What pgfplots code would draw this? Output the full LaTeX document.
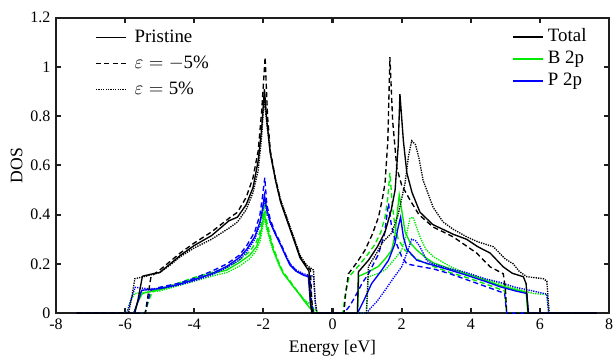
\documentclass[border=0pt]{standalone}
\usepackage{pgfplots}
\pgfplotsset{compat=1.18}
\usepackage{fontspec}
\setmainfont{Liberation Serif}
\definecolor{axgray}{RGB}{30,30,30}
\definecolor{mygreen}{RGB}{0,235,0}
\definecolor{myblue}{RGB}{0,0,255}
\pgfplotsset{
 solidS/.style={solid, line width=0.85pt},
 dashS/.style={dash pattern=on 3.2pt off 2pt, line width=0.85pt},
 dotS/.style={dash pattern=on 0.8pt off 0.7pt, line width=0.85pt},
}
\begin{document}
\begin{tikzpicture}
\begin{axis}[name=main, scale only axis, width=345.6pt, height=184.6pt,
 xmin=-8, xmax=8, ymin=0, ymax=1.2,
 xtick={-8,-6,-4,-2,0,2,4,6,8}, ytick={0,0.2,0.4,0.6,0.8,1,1.2},
 tick align=inside, major tick length=3.2pt,
 axis line style={line width=1.4pt, color=axgray},
 every tick/.style={line width=1.3pt, color=axgray},
 ticklabel style={font=\fontsize{10}{12}\selectfont},
 /pgf/number format/assume math mode=true,
 xlabel={Energy [eV]}, ylabel={DOS},
 ylabel style={yshift=-2pt},
 label style={font=\fontsize{11}{13}\selectfont},
 legend cell align=left,
 legend image code/.code={\draw[#1] (0pt,0pt) -- (18.75pt,0pt);},
 legend style={at={(0.825,0.966)}, anchor=north west, draw=none, fill=none,
   inner sep=0pt, font=\fontsize{11.8}{13}\selectfont, row sep=2.75pt,
   nodes={inner sep=0pt, text height=8.5pt, text depth=2.5pt},
   /tikz/every odd column/.style={column sep=2.5pt}},
]
% ---------- B 2p (green) ----------
\addplot[mygreen, solidS, forget plot] table {
-7.4 0
-5.75 0
-5.62 0.05
-5.5 0.08
-5.2 0.09
-5.0 0.095
-4.5 0.115
-4.0 0.14
-3.5 0.16
-3.06 0.175
-2.7 0.205
-2.4 0.235
-2.2 0.27
-2.1 0.31
-2.03 0.36
-1.98 0.41
-1.9 0.35
-1.8 0.30
-1.71 0.256
-1.55 0.20
-1.42 0.16
-1.25 0.13
-1.13 0.107
-0.95 0.075
-0.84 0.053
-0.65 0.02
-0.5 0
0.72 0
0.76 0.15
1.0 0.165
1.33 0.19
1.55 0.225
1.71 0.256
1.8 0.31
1.86 0.39
1.93 0.48
2.0 0.42
2.1 0.33
2.25 0.285
2.44 0.256
2.7 0.225
2.91 0.205
3.4 0.18
3.88 0.16
4.4 0.135
4.85 0.112
5.3 0.095
5.6 0.085
5.65 0
7.65 0
};
\addplot[mygreen, dashS, forget plot] table {
-7.4 0
-5.42 0
-5.32 0.05
-5.22 0.085
-5.0 0.10
-4.5 0.12
-4.0 0.145
-3.5 0.165
-3.06 0.185
-2.7 0.215
-2.4 0.25
-2.2 0.29
-2.1 0.33
-2.03 0.39
-1.96 0.45
-1.9 0.37
-1.8 0.31
-1.71 0.265
-1.55 0.205
-1.42 0.165
-1.25 0.135
-1.13 0.11
-0.95 0.078
-0.84 0.056
-0.65 0.025
-0.48 0
0.3 0
0.36 0.07
0.48 0.148
0.8 0.20
1.0 0.235
1.23 0.28
1.4 0.33
1.52 0.39
1.6 0.47
1.66 0.57
1.73 0.44
1.8 0.36
1.9 0.30
2.1 0.255
2.5 0.215
2.91 0.19
3.4 0.165
3.88 0.145
4.4 0.12
4.85 0.097
4.98 0.09
5.04 0
7.65 0
};
\addplot[mygreen, dotS, forget plot] table {
-7.4 0
-5.95 0
-5.85 0.05
-5.72 0.08
-5.4 0.085
-5.0 0.09
-4.5 0.11
-4.0 0.13
-3.5 0.15
-3.06 0.165
-2.7 0.19
-2.4 0.22
-2.2 0.255
-2.1 0.29
-2.03 0.34
-1.98 0.39
-1.9 0.34
-1.8 0.29
-1.71 0.25
-1.55 0.195
-1.42 0.16
-1.25 0.13
-1.13 0.107
-0.95 0.078
-0.84 0.058
-0.6 0.03
-0.42 0
0.98 0
1.04 0.148
1.3 0.16
1.52 0.175
1.8 0.22
2.0 0.256
2.15 0.325
2.24 0.385
2.33 0.39
2.43 0.35
2.53 0.31
2.7 0.26
2.91 0.23
3.4 0.19
3.88 0.16
4.4 0.14
4.85 0.12
5.3 0.10
5.8 0.08
6.2 0.075
6.26 0
7.65 0
};
% ---------- P 2p (blue) ----------
\addplot[myblue, solidS, forget plot] table {
-7.4 0
-5.75 0
-5.62 0.05
-5.52 0.093
-5.2 0.097
-4.99 0.10
-4.5 0.115
-4.03 0.134
-3.5 0.16
-3.06 0.19
-2.7 0.225
-2.48 0.26
-2.25 0.31
-2.1 0.37
-2.03 0.42
-1.97 0.48
-1.9 0.42
-1.8 0.37
-1.65 0.32
-1.52 0.283
-1.35 0.23
-1.23 0.195
-1.05 0.17
-0.84 0.154
-0.7 0.148
-0.64 0.04
-0.58 0
0.72 0
0.9 0.05
1.13 0.12
1.4 0.17
1.62 0.215
1.8 0.28
1.9 0.35
1.97 0.39
2.05 0.31
2.15 0.26
2.44 0.215
2.91 0.195
3.4 0.175
3.88 0.154
4.4 0.13
4.85 0.107
5.3 0.09
5.62 0.08
5.67 0
7.65 0
};
\addplot[myblue, dashS, forget plot] table {
-7.4 0
-5.42 0
-5.34 0.05
-5.26 0.093
-5.0 0.105
-4.5 0.12
-4.03 0.14
-3.5 0.17
-3.06 0.20
-2.7 0.235
-2.48 0.275
-2.25 0.33
-2.1 0.40
-2.03 0.47
-1.96 0.55
-1.9 0.44
-1.8 0.38
-1.65 0.325
-1.52 0.29
-1.35 0.235
-1.23 0.20
-1.05 0.172
-0.84 0.156
-0.66 0.15
-0.6 0.04
-0.55 0
0.33 0
0.5 0.03
0.65 0.066
0.85 0.12
1.04 0.16
1.33 0.24
1.5 0.32
1.62 0.446
1.7 0.36
1.8 0.30
2.0 0.23
2.15 0.20
2.5 0.19
2.91 0.18
3.4 0.16
3.88 0.136
4.4 0.11
4.85 0.087
4.98 0.08
5.04 0
7.65 0
};
\addplot[myblue, dotS, forget plot] table {
-7.4 0
-5.95 0
-5.82 0.06
-5.71 0.105
-5.4 0.10
-5.0 0.10
-4.5 0.112
-4.03 0.13
-3.5 0.155
-3.06 0.185
-2.7 0.215
-2.48 0.25
-2.25 0.30
-2.1 0.36
-2.03 0.41
-1.97 0.46
-1.9 0.41
-1.8 0.365
-1.65 0.32
-1.52 0.285
-1.35 0.235
-1.23 0.20
-1.05 0.175
-0.84 0.16
-0.55 0.15
-0.5 0.04
-0.45 0
0.98 0
1.1 0.02
1.3 0.05
1.52 0.093
1.75 0.14
2.0 0.188
2.15 0.244
2.29 0.30
2.4 0.295
2.53 0.27
2.72 0.215
2.91 0.20
3.4 0.18
3.88 0.165
4.4 0.14
4.85 0.125
5.3 0.105
5.8 0.09
6.2 0.077
6.25 0
7.65 0
};
% ---------- Total (black) ----------
\addplot[black, solidS, forget plot] table {
-7.4 0
-5.72 0
-5.62 0.06
-5.5 0.15
-5.2 0.16
-5.0 0.165
-4.7 0.20
-4.4 0.235
-4.0 0.275
-3.5 0.315
-3.0 0.375
-2.75 0.39
-2.5 0.44
-2.3 0.51
-2.15 0.62
-2.05 0.75
-1.97 0.91
-1.9 0.78
-1.8 0.65
-1.65 0.54
-1.5 0.45
-1.3 0.37
-1.1 0.29
-0.94 0.225
-0.75 0.185
-0.68 0.17
-0.64 0.05
-0.6 0
0.72 0
0.75 0.168
1.04 0.215
1.3 0.27
1.52 0.33
1.7 0.42
1.81 0.50
1.9 0.68
1.95 0.89
2.05 0.70
2.15 0.57
2.3 0.49
2.53 0.41
2.9 0.36
3.2 0.34
3.5 0.32
3.88 0.30
4.2 0.27
4.56 0.244
4.94 0.188
5.2 0.162
5.52 0.148
5.6 0.12
5.66 0
7.65 0
};
\addplot[black, dashS, forget plot] table {
-7.4 0
-5.42 0
-5.34 0.07
-5.25 0.15
-5.0 0.175
-4.7 0.21
-4.4 0.245
-4.0 0.285
-3.5 0.33
-3.0 0.385
-2.75 0.41
-2.5 0.47
-2.3 0.55
-2.15 0.66
-2.05 0.82
-1.95 1.04
-1.88 0.80
-1.8 0.66
-1.65 0.545
-1.5 0.455
-1.3 0.375
-1.1 0.295
-0.94 0.23
-0.75 0.19
-0.64 0.175
-0.6 0.05
-0.56 0
0.33 0
0.38 0.08
0.46 0.16
0.7 0.205
0.94 0.256
1.15 0.32
1.33 0.39
1.45 0.47
1.52 0.53
1.6 0.70
1.66 1.04
1.74 0.78
1.86 0.59
2.0 0.52
2.24 0.46
2.5 0.40
2.91 0.35
3.2 0.33
3.49 0.31
3.8 0.28
4.17 0.244
4.56 0.188
4.94 0.16
5.0 0.10
5.04 0
7.65 0
};
\addplot[black, dotS, forget plot] table {
-7.4 0
-5.9 0
-5.8 0.07
-5.72 0.14
-5.4 0.15
-5.0 0.165
-4.7 0.195
-4.4 0.23
-4.0 0.265
-3.5 0.30
-3.0 0.345
-2.75 0.37
-2.5 0.42
-2.3 0.49
-2.15 0.58
-2.05 0.72
-1.98 0.87
-1.9 0.77
-1.8 0.65
-1.65 0.545
-1.5 0.46
-1.3 0.38
-1.1 0.30
-0.94 0.235
-0.75 0.195
-0.55 0.175
-0.5 0.05
-0.45 0
0.98 0
1.04 0.19
1.3 0.25
1.46 0.29
1.71 0.325
1.9 0.40
2.1 0.53
2.2 0.64
2.29 0.70
2.4 0.685
2.5 0.63
2.62 0.54
2.91 0.43
3.2 0.37
3.5 0.34
3.88 0.31
4.2 0.29
4.65 0.27
5.0 0.22
5.23 0.20
5.4 0.17
5.62 0.148
6.1 0.14
6.2 0.13
6.27 0
7.65 0
};
\addlegendimage{black, solidS}
\addlegendimage{mygreen, solidS}
\addlegendimage{myblue, solidS}
\legend{Total, B 2p, P 2p}
\end{axis}
\begin{axis}[at={(main.south west)}, anchor=south west, scale only axis,
 width=345.6pt, height=184.6pt, hide axis, xmin=0, xmax=1, ymin=0, ymax=1,
 legend cell align=left,
 legend image code/.code={\draw[#1] (0pt,0pt) -- (18.75pt,0pt);},
 legend style={at={(0.0705,0.965)}, anchor=north west, draw=none, fill=none,
   inner sep=0pt, font=\fontsize{11.8}{13}\selectfont, row sep=5.25pt,
   nodes={inner sep=0pt, text height=8.5pt, text depth=2.5pt},
   /tikz/every odd column/.style={column sep=5pt}},
]
\addlegendimage{black, solidS}
\addlegendimage{black, dashS}
\addlegendimage{black, dotS}
\legend{Pristine, $\varepsilon={-}\mbox{5\%}$, $\varepsilon=\mbox{5\%}$}
\end{axis}
\pgfresetboundingbox
\path ([xshift=-35pt,yshift=-28.1pt]main.south west) rectangle ([xshift=3.1pt,yshift=11.1pt]main.north east);
\end{tikzpicture}
\end{document}
